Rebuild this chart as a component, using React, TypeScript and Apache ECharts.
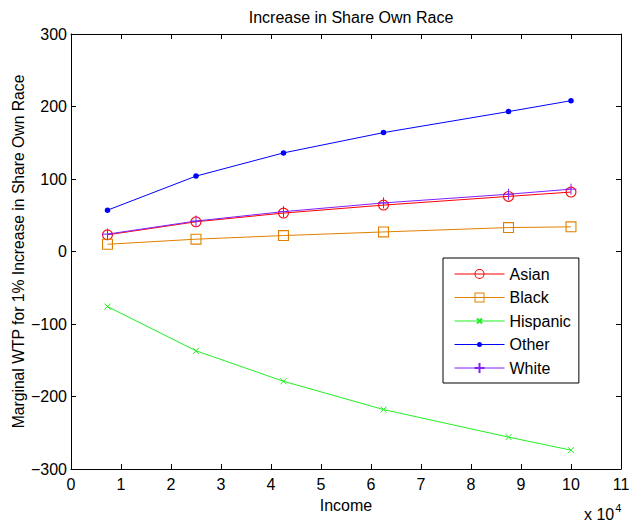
import React, { useEffect, useRef } from "react";
import * as echarts from "echarts";

const income = [7300, 25000, 42500, 62500, 87500, 100000];
const asian = [23, 41, 53, 64, 76, 82];
const black = [10, 17, 22, 27, 33, 34];
const hispanic = [-76, -137, -179, -218, -256, -274];
const other = [57, 104, 136, 164, 193, 208];
const white = [24, 42, 55, 67, 79, 86];

const seriesNames = ["Asian", "Black", "Hispanic", "Other", "White"];
const FONT = "Liberation Sans, Arial, Helvetica, sans-serif";

// marker shapes (10x10 boxes)
const RING =
  "path://M0,5A5,5 0 1,1 10,5A5,5 0 1,1 0,5ZM1,5A4,4 0 1,0 9,5A4,4 0 1,0 1,5Z";
const SQUARE = "path://M0,0L10,0L10,10L0,10ZM1,1L1,9L9,9L9,1Z";
const CROSS = "path://M0,0M10,10M2.5,2.5L7.5,7.5M7.5,2.5L2.5,7.5";
const DOT =
  "path://M0,0M10,10M2.5,5A2.5,2.5 0 1,1 7.5,5A2.5,2.5 0 1,1 2.5,5Z";
const PLUS = "path://M5,0L5,10M0,5L10,5";

export default function App() {
  const ref = useRef<HTMLDivElement>(null);
  useEffect(() => {
    if (!ref.current) return;
    const chart = echarts.init(ref.current, null, { renderer: "svg" });
    const pair = (ys: number[]) => income.map((x, i) => [x, ys[i]]);
    const mk = (
      name: string,
      ys: number[],
      color: string,
      symbol: string,
      size: number,
      stroke: boolean
    ) => ({
      type: "line",
      name,
      data: pair(ys),
      symbol,
      symbolSize: size,
      showAllSymbol: true,
      lineStyle: { color, width: 1 },
      itemStyle: stroke
        ? { color, borderColor: color, borderWidth: 1 }
        : { color, borderWidth: 0 },
      color,
      emphasis: { disabled: true },
    });
    const axisCommon = {
      axisLine: { show: true, onZero: false, lineStyle: { color: "#000", width: 1 } },
      axisTick: { show: true, inside: true, length: 5, lineStyle: { color: "#000" } },
      splitLine: { show: false },
    };
    chart.setOption({
      animation: false,
      backgroundColor: "#fff",
      textStyle: { fontFamily: FONT },
      title: {
        text: "Increase in Share Own Race",
        left: 346,
        top: 4,
        textAlign: "center",
        textStyle: { fontFamily: FONT, fontSize: 16, fontWeight: "normal", color: "#000" },
      },
      grid: {
        left: 71,
        right: 10,
        top: 34,
        bottom: 55,
        containLabel: false,
        outerBoundsMode: "none",
      },
      xAxis: [
        {
          type: "value",
          min: 0,
          max: 110000,
          interval: 10000,
          name: "Income",
          nameLocation: "middle",
          nameGap: 28,
          nameMoveOverlap: false,
          nameTextStyle: { fontFamily: FONT, fontSize: 16, color: "#000" },
          axisLabel: {
            fontFamily: FONT,
            fontSize: 16,
            color: "#000",
            margin: 7,
            formatter: (v: number) => String(v / 10000),
          },
          ...axisCommon,
        },
        {
          type: "value",
          position: "top",
          min: 0,
          max: 110000,
          interval: 10000,
          axisLabel: { show: false },
          ...axisCommon,
        },
      ],
      yAxis: [
        {
          type: "value",
          min: -300,
          max: 300,
          interval: 100,
          name: "Marginal WTP for 1% Increase in Share Own Race",
          nameLocation: "middle",
          nameGap: 45,
          nameMoveOverlap: false,
          nameTextStyle: { fontFamily: FONT, fontSize: 15.7, color: "#000" },
          axisLabel: {
            fontFamily: FONT,
            fontSize: 16,
            color: "#000",
            margin: 4,
            formatter: (v: number) => String(v).replace("-", "\u2212"),
          },
          ...axisCommon,
        },
        {
          type: "value",
          position: "right",
          min: -300,
          max: 300,
          interval: 100,
          axisLabel: { show: false },
          ...axisCommon,
        },
      ],
      legend: {
        data: seriesNames,
        orient: "vertical",
        left: 443,
        top: 258,
        width: 138,
        itemWidth: 50,
        itemHeight: 12.5,
        itemGap: 7.5,
        padding: [8, 8, 7, 11],
        borderColor: "#000",
        borderWidth: 1,
        backgroundColor: "#fff",
        lineStyle: { width: 1 },
        textStyle: { fontFamily: FONT, fontSize: 16, color: "#000", lineHeight: 16 },
        selectedMode: false,
      },
      graphic: [
        {
          type: "text",
          left: 584,
          top: 502,
          style: {
            text: "{a|x 10}{b|4}",
            rich: {
              a: { fontFamily: FONT, fontSize: 16, fill: "#000", verticalAlign: "bottom", lineHeight: 20 },
              b: { fontFamily: FONT, fontSize: 11, fill: "#000", verticalAlign: "top", lineHeight: 20, padding: [0, 0, 10, 1] },
            },
          },
        },
      ],
      series: [
        mk("Asian", asian, "#ff0000", RING, 11, false),
        mk("Black", black, "#e08000", SQUARE, 11, false),
        mk("Hispanic", hispanic, "#22ee22", CROSS, 12, true),
        mk("Other", other, "#0000ff", DOT, 11, false),
        mk("White", white, "#8020ff", PLUS, 11, true),
      ],
    });
    return () => chart.dispose();
  }, []);
  return (
    <div
      ref={ref}
      style={{ position: "fixed", left: 0, top: 0, width: 631, height: 524 }}
    />
  );
}
